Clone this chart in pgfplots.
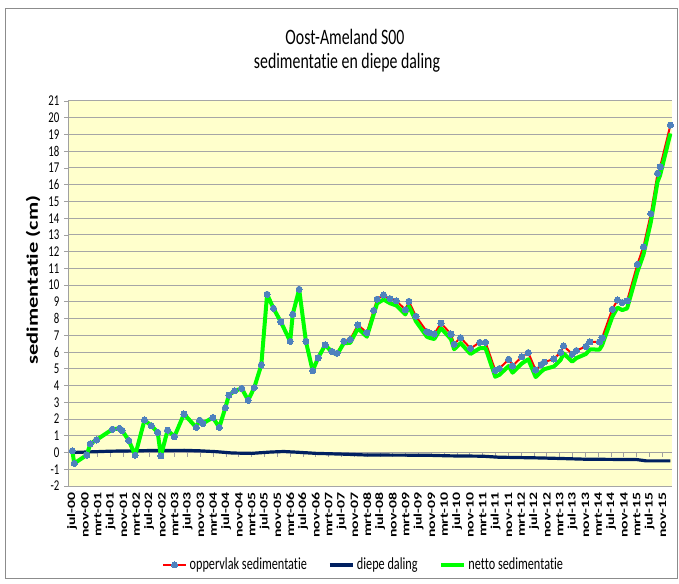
\documentclass[border=0pt]{standalone}
\usepackage{pgfplots}
\pgfplotsset{compat=1.18}
\usepackage{pgfplotstable}
\usepackage{fontspec}
\setmainfont{Carlito}[FakeStretch=0.72, Ligatures={NoCommon}]
\newfontfamily\rotfont{Carlito}[FakeStretch=1.39, Ligatures={NoCommon}]

\definecolor{bgyellow}{HTML}{FFFFCC}
\definecolor{gridgray}{HTML}{A6A6A6}
\definecolor{axisgray}{HTML}{A0A0A0}
\definecolor{bordergray}{HTML}{8C8C8C}
\definecolor{navyline}{HTML}{002060}
\definecolor{markerblue}{HTML}{4F81BD}
\definecolor{redline}{HTML}{FF0000}
\definecolor{greenline}{HTML}{00FF00}

\pgfplotstableread{
m opp netto
0.1 0.10 0.10
0.7 -0.65 -0.65
4.6 -0.15 -0.15
5.7 0.52 0.52
7.6 0.75 0.75
12.6 1.39 1.39
14.8 1.44 1.44
15.6 1.32 1.32
17.7 0.72 0.72
19.7 -0.16 -0.16
22.6 1.94 1.94
24.7 1.60 1.60
26.7 1.21 1.21
27.7 -0.20 -0.20
29.8 1.34 1.34
31.9 0.95 0.95
34.9 2.30 2.30
38.7 1.50 1.50
39.8 1.93 1.93
40.8 1.74 1.74
43.9 2.09 2.09
45.9 1.50 1.50
47.8 2.68 2.68
48.9 3.43 3.43
50.7 3.68 3.68
52.9 3.83 3.83
54.9 3.12 3.12
56.8 3.88 3.88
59.0 5.23 5.23
60.8 9.45 9.45
62.8 8.61 8.61
65.1 7.80 7.80
68.0 6.64 6.64
68.8 8.26 8.26
70.8 9.75 9.75
72.9 6.64 6.64
75.0 4.89 4.89
76.7 5.65 5.65
78.9 6.43 6.43
81.0 6.04 6.00
82.6 5.93 5.85
84.7 6.65 6.53
86.7 6.75 6.55
89.1 7.62 7.42
91.9 7.16 6.92
94.0 8.49 8.24
95.1 9.16 8.91
97.1 9.41 9.14
99.1 9.19 8.92
101.1 9.06 8.78
103.9 8.53 8.25
105.0 9.03 8.75
107.2 8.14 7.84
110.6 7.22 6.92
111.3 7.16 6.86
112.9 7.08 6.78
115.0 7.73 7.43
118.1 7.08 6.78
119.1 6.47 6.17
121.1 6.86 6.54
124.2 6.22 5.89
127.1 6.58 6.23
128.9 6.58 6.23
131.9 4.91 4.53
133.2 5.02 4.64
136.1 5.57 5.17
137.3 5.17 4.77
140.2 5.72 5.32
142.2 5.97 5.57
144.5 4.93 4.51
146.2 5.25 4.83
147.2 5.40 4.98
150.2 5.59 5.14
152.3 5.99 5.54
153.2 6.37 5.92
155.9 5.88 5.43
157.2 6.09 5.64
160.2 6.34 5.89
161.4 6.61 6.16
164.4 6.60 6.15
165.2 6.85 6.40
168.4 8.56 8.11
170.0 9.11 8.66
171.5 8.96 8.51
173.0 9.06 8.61
176.2 11.24 10.79
178.1 12.29 11.82
180.4 14.27 13.77
182.5 16.68 16.18
183.3 17.07 16.57
186.5 19.56 19.06
}\sedtable

\pgfplotstableread{
m diep
0 0
12 0.08
25 0.12
35 0.13
40 0.10
45 0.05
50 -0.03
56 -0.05
62 0.03
66 0.06
70 0.02
76 -0.05
85 -0.10
92 -0.15
110 -0.16
118 -0.20
128 -0.22
133 -0.28
145 -0.32
153 -0.36
160 -0.40
176 -0.42
179 -0.50
186.5 -0.50
}\dieptable

\begin{document}
\begin{tikzpicture}
\useasboundingbox (0,0) rectangle (509.25pt,437.25pt);
\draw[color=bordergray, line width=0.75pt] (3.75pt,3.75pt) rectangle (507.75pt,430.5pt);
\node[font=\fontsize{16.5}{19}\selectfont] at (258.75pt,409.5pt) {Oost-Ameland S00};
\node[font=\fontsize{16.5}{19}\selectfont] at (260.25pt,390pt) {sedimentatie en diepe daling};
\node[rotate=90, font=\rotfont\bfseries\fontsize{12.1}{14}\selectfont] at (24.75pt,227.25pt) {sedimentatie (cm)};

% background: plot area, grid and axis lines
\begin{axis}[
  at={(51pt,72.75pt)}, anchor=south west, scale only axis,
  width=453pt, height=288.75pt,
  xmin=-1.25, xmax=187, ymin=-2, ymax=21,
  axis background/.style={fill=bgyellow},
  axis x line=middle, axis y line=left,
  axis line style={-, draw=axisgray, line width=0.75pt},
  xtick={0,4,...,184}, xticklabels={},
  ytick={-2,-1,...,21}, yticklabels={},
  ymajorgrids, grid style={draw=gridgray, line width=0.75pt},
  tick align=outside, major tick length=3pt,
  tick style={draw=axisgray, line width=0.6pt},
]
\end{axis}

% data, tick labels and legend
\begin{axis}[
  at={(51pt,72.75pt)}, anchor=south west, scale only axis,
  width=453pt, height=288.75pt,
  xmin=-1.25, xmax=187, ymin=-2, ymax=21,
  axis line style={draw=none},
  major tick length=0pt,
  xtick={0,4,...,184},
  xticklabels={jul-00,nov-00,mrt-01,jul-01,nov-01,mrt-02,jul-02,nov-02,mrt-03,jul-03,nov-03,mrt-04,jul-04,nov-04,mrt-05,jul-05,nov-05,mrt-06,jul-06,nov-06,mrt-07,jul-07,nov-07,mrt-08,jul-08,nov-08,mrt-09,jul-09,nov-09,mrt-10,jul-10,nov-10,mrt-11,jul-11,nov-11,mrt-12,jul-12,nov-12,mrt-13,jul-13,nov-13,mrt-14,jul-14,nov-14,mrt-15,jul-15,nov-15},
  ytick={-2,-1,...,21},
  /pgf/number format/assume math mode=true,
  xticklabel style={font=\rotfont\bfseries\fontsize{8.5}{10}\selectfont, yshift=-1.5pt, rotate=90, anchor=east},
  yticklabel style={font=\fontsize{11.25}{13}\selectfont, xshift=-3pt, anchor=east},
  legend columns=3,
  legend cell align=left,
  legend style={at={(0.49,-0.205)}, anchor=center, draw=none, fill=none,
    font=\fontsize{12.75}{15}\selectfont,
    /tikz/every even column/.append style={column sep=14pt}},
]
\addplot[redline, line width=1.5pt, line join=round, mark=*, mark size=2.3pt,
  mark options={fill=markerblue, draw=markerblue, line width=0pt}]
  table[x=m, y=opp] {\sedtable};
\addlegendentry{oppervlak sedimentatie}
\addplot[navyline, line width=2.4pt, line join=round, no markers]
  table[x=m, y=diep] {\dieptable};
\addlegendentry{diepe daling}
\addplot[greenline, line width=3pt, line join=round, no markers]
  table[x=m, y=netto] {\sedtable};
\addlegendentry{netto sedimentatie}
\addplot[only marks, mark=*, mark size=2.3pt,
  mark options={fill=markerblue, draw=markerblue, line width=0pt}, forget plot]
  table[x=m, y=opp] {\sedtable};
\end{axis}
\end{tikzpicture}
\end{document}
